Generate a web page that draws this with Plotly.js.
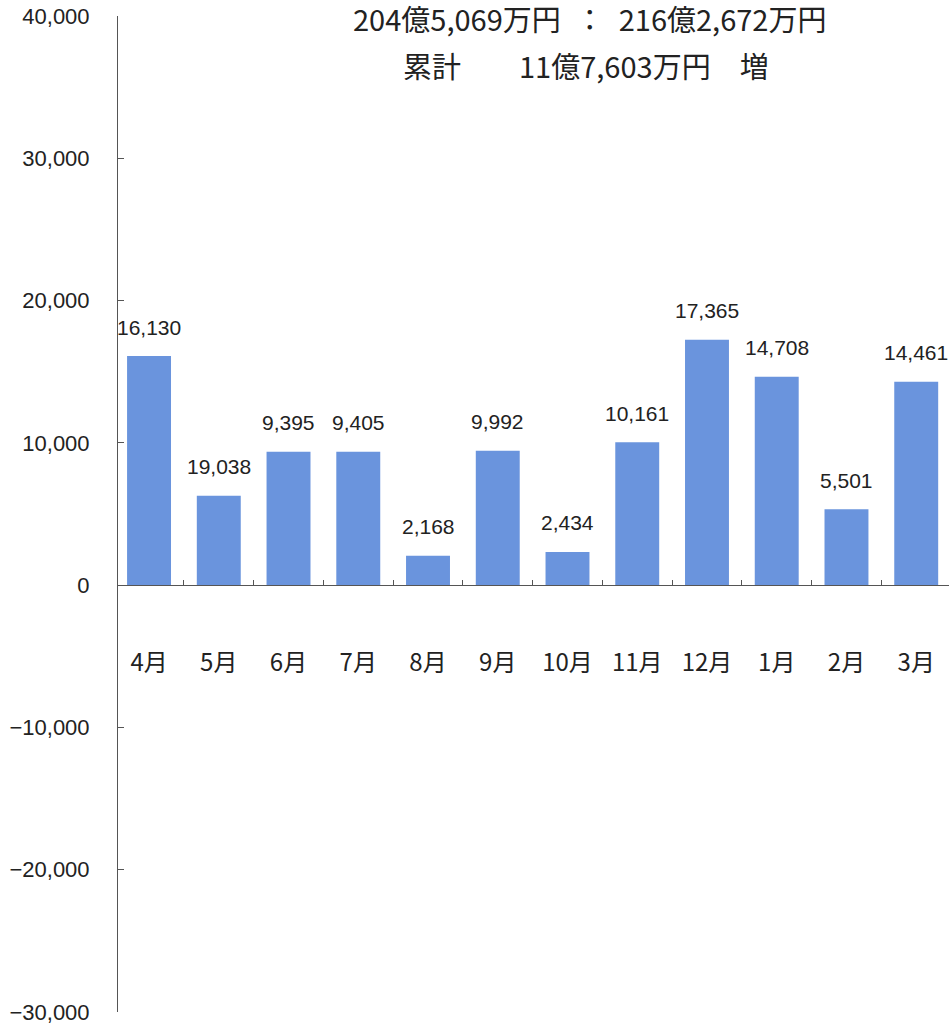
<!DOCTYPE html>
<html>
<head>
<meta charset="utf-8">
<script src="https://cdn.plot.ly/plotly-3.0.1.min.js"></script>
<style>html,body{margin:0;padding:0;background:#fff;}#chart{width:949px;height:1027px;}</style>
</head>
<body>
<div id="chart"></div>
<script>
const months = ['4月','5月','6月','7月','8月','9月','10月','11月','12月','1月','2月','3月'];
const values = [16100, 6280, 9380, 9380, 2060, 9450, 2330, 10050, 17250, 14650, 5330, 14300];
const labels = ['16,130','19,038','9,395','9,405','2,168','9,992','2,434','10,161','17,365','14,708','5,501','14,461'];
const yTicks = [-30000,-20000,-10000,0,10000,20000,30000,40000];
const titleLine1 = '204億5,069万円\u2002：\u2002216億2,672万円';
const titleLine2 = '累計\u3000\u300011億7,603万円\u3000増';

const numFont = 'Liberation Sans, Arial, sans-serif';
const cjkFont = 'Noto Sans CJK JP, sans-serif';

const trace = {
  type: 'bar',
  x: months,
  y: values,
  marker: {color: '#6a94dd', line: {width: 0}},
  hoverinfo: 'skip'
};

const annotations = months.map((m, i) => ({
  x: m, y: values[i], xref: 'x', yref: 'y',
  text: labels[i], showarrow: false,
  yanchor: 'middle', yshift: 29,
  font: {family: numFont, size: 21, color: '#222'}
}));
annotations.push({
  xref: 'paper', yref: 'paper', x: 0.567, y: 0.998,
  xanchor: 'center', yanchor: 'middle', showarrow: false,
  text: titleLine1, font: {family: cjkFont, size: 29, color: '#222'}
});
annotations.push({
  xref: 'paper', yref: 'paper', x: 0.563, y: 0.9505,
  xanchor: 'center', yanchor: 'middle', showarrow: false,
  text: titleLine2, font: {family: cjkFont, size: 29, color: '#222'}
});

const layout = {
  width: 949, height: 1027,
  margin: {l: 118, r: 0, t: 16, b: 15, pad: 0},
  paper_bgcolor: '#fff', plot_bgcolor: '#fff',
  showlegend: false,
  bargap: 0.37,
  xaxis: {
    type: 'category',
    range: [-0.445, 11.47],
    anchor: 'free', position: 30000/70000,
    showline: true, linecolor: '#555', linewidth: 1,
    ticks: 'inside', tickson: 'boundaries', ticklen: 5, tickcolor: '#555', tickwidth: 1,
    showgrid: false, zeroline: false,
    ticklabelstandoff: 56,
    tickfont: {family: cjkFont, size: 24, color: '#222'}
  },
  yaxis: {
    range: [-30000, 40000],
    tickvals: yTicks,
    tickformat: ',d',
    showline: true, linecolor: '#555', linewidth: 1,
    ticks: 'inside', ticklen: 6, tickcolor: '#555', tickwidth: 1,
    showgrid: false, zeroline: false,
    ticklabelstandoff: 23,
    tickfont: {family: numFont, size: 22, color: '#222'}
  },
  annotations: annotations
};

Plotly.newPlot('chart', [trace], layout, {displayModeBar: false, staticPlot: true});
</script>
</body>
</html>
